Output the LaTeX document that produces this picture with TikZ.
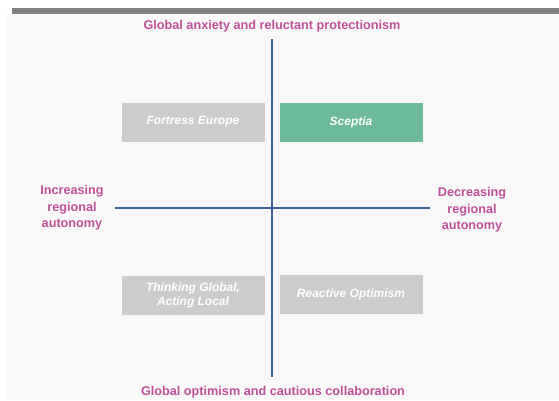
\documentclass[tikz,border=0pt]{standalone}
\usepackage{fontspec}
\setmainfont{Liberation Sans}

\definecolor{Axis}{HTML}{3A6496}
\definecolor{Label}{HTML}{C0509A}
\definecolor{Grey}{HTML}{CCCCCC}
\definecolor{Green}{HTML}{6DBA9A}
\definecolor{Panel}{HTML}{F8F8F8}
\definecolor{Bar}{HTML}{808080}

\begin{document}
\begin{tikzpicture}[x=0.75pt, y=-0.75pt,
  label/.style={color=Label, font=\fontsize{9.5}{12.5}\selectfont\bfseries, align=center},
  scenario/.style={fill=Grey, draw=white!85!Grey, line width=0.6pt, minimum width=108pt, minimum height=30pt,
    text=white, font=\fontsize{9}{10.5}\selectfont\bfseries\itshape, align=center, inner sep=0pt}]

 %%%%%%%%%% Background %%%%%%%%%%
 \useasboundingbox (0,0) rectangle (559,400);
 \fill [color=Panel] (7,14) rectangle (559,400);
 \fill [color=Bar] (12,8) rectangle (559,14);

 %%%%%%%%%% Points pour les axes %%%%%%%%%%
 \coordinate (top) at (272,39);
 \coordinate (bottom) at (272,377);
 \coordinate (left) at (115,208);
 \coordinate (right) at (430,208);

 % Axes
 \draw [line width=2pt, color=Axis] (top) -- (bottom);
 \draw [line width=2pt, color=Axis] (left) -- (right);

 %%%%%%%%%% Scenarios %%%%%%%%%%
 \node [scenario] (fortress) at (193,122) {Fortress Europe};
 \node [scenario, fill=Green] (sceptia) at (351,122) {Sceptia};
 \node [scenario] (thinking) at (193,295) {Thinking Global,\\Acting Local};
 \node [scenario] (reactive) at (351,294) {Reactive Optimism};

 %%%%%%%%%% Axis labels %%%%%%%%%%
 \node [label] (anxiety) at (272,26) {Global anxiety and reluctant protectionism};
 \node [label] (optimism) at (273,392) {Global optimism and cautious collaboration};
 \node [label] (increasing) at (72,208) {Increasing\\regional\\autonomy};
 \node [label] (decreasing) at (472,210) {Decreasing\\regional\\autonomy};

\end{tikzpicture}
\end{document}
